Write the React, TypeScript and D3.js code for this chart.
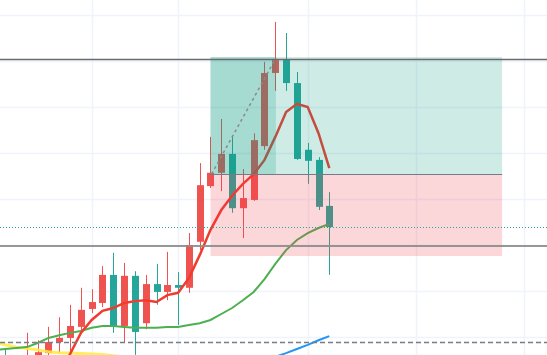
import React from "react";
import * as d3 from "d3";

const W = 547;
const H = 355;

// candle index 0 is a bar off the bottom of the pane
const opens = [24.0, 25.4, 21.7, 22.4, 24.6, 26.5, 28.9, 29.8, 32.2, 36.1, 37.4, 43.5, 32.4, 43.3, 33.0, 41.5, 39.8, 41.3, 40.7, 50.7, 62.8, 65.7, 69.8, 58.0, 59.8, 71.5, 87.4, 90.4, 85.2, 70.7, 68.5, 58.5];
const highs = [25.0, 27.6, 25.4, 30.9, 29.3, 32.2, 34.3, 37.0, 40.7, 40.4, 45.4, 48.3, 46.1, 44.3, 43.5, 45.9, 48.5, 44.1, 52.6, 67.8, 73.5, 77.4, 73.7, 66.5, 74.3, 89.8, 98.5, 96.1, 87.6, 72.2, 69.1, 61.5];
const lows = [21.0, 21.7, 20.4, 21.1, 23.9, 25.4, 26.5, 26.5, 31.1, 35.2, 36.5, 30.9, 28.7, 26.1, 31.7, 37.0, 38.0, 32.6, 39.6, 48.9, 62.4, 61.7, 57.0, 51.5, 59.6, 70.7, 83.5, 83.5, 68.5, 63.3, 57.6, 43.5];
const closes = [22.0, 23.3, 24.1, 25.7, 26.7, 28.9, 29.8, 32.4, 35.9, 37.6, 43.5, 32.2, 43.3, 31.1, 41.5, 39.8, 41.3, 40.7, 50.0, 63.0, 65.7, 69.8, 58.0, 60.2, 72.8, 87.4, 90.2, 85.2, 68.7, 68.3, 58.3, 53.9];

type V = number | null;
const maFast: V[] = [null, null, null, null, null, null, 22.2, 26.3, 30.9, 33.7, 35.7, 36.3, 37.4, 37.8, 38.0, 37.6, 39.1, 39.6, 42.8, 47.8, 53.3, 57.6, 60.7, 63.3, 65.4, 68.5, 73.5, 78.9, 80.7, 80.0, 74.3, 66.7];
const maMid: V[] = [27.2, 27.4, 27.6, 27.8, 28.7, 29.8, 30.4, 30.9, 31.3, 32.0, 32.4, 32.4, 32.2, 32.0, 32.0, 32.0, 32.2, 32.2, 32.6, 33.0, 33.7, 35.0, 36.3, 38.0, 39.8, 42.6, 45.9, 48.9, 51.1, 52.6, 53.7, 54.6];
const maSlow: V[] = [28.9, 28.3, 27.8, 27.5, 27.2, 26.8, 26.6, 26.5, 26.4, 26.3, 26.2, 25.9, 25.7, null, null, null, null, null, null, null, null, null, null, null, null, null, null, null, null, null, null, null];
const maLong: V[] = [null, null, null, null, null, null, null, null, null, null, null, null, null, null, null, null, null, null, null, null, null, null, null, null, null, null, 25.7, 26.5, 27.4, 28.3, 29.3, 30.2];

const priceGrid = [100, 90, 80, 70, 60, 50, 40, 30];
const timeGrid = [9, 17, 29, 39, 49];

const resistance = 90.3;
const support = 49.8;
const lowLevel = 28.9;
const lastClose = closes[closes.length - 1];

// long position tool
const posStart = 20;
const posEnd = 47;
const posFilled = 26.05;
const entry = 65.4;
const target = 90.85;
const stop = 47.6;

export default function App() {
  const x = d3.scaleLinear().domain([0, 51]).range([-5.5, 545.3]);
  const y = d3.scaleLinear().domain([100, 30]).range([15, 337]);

  const line = d3
    .line<V>()
    .defined((d) => d != null)
    .x((_, i) => x(i))
    .y((d) => y(d as number));

  const up = "#ef5350";
  const down = "#26a69a";

  return (
    <svg
      width={W}
      height={H}
      style={{ position: "fixed", left: 0, top: 0, background: "#fff" }}
    >
      <rect width={W} height={H} fill="#ffffff" />
      {/* grid */}
      {priceGrid.map((p) => (
        <line key={"h" + p} x1={0} x2={W} y1={Math.round(y(p)) + 0.5} y2={Math.round(y(p)) + 0.5} stroke="#f0f3fa" strokeWidth={1.5} />
      ))}
      {timeGrid.map((t) => (
        <line key={"v" + t} x1={Math.round(x(t)) + 0.5} x2={Math.round(x(t)) + 0.5} y1={0} y2={H} stroke="#f0f3fa" strokeWidth={1.5} />
      ))}

      {/* candles */}
      {opens.map((o, i) => {
        const c = closes[i];
        const cx = Math.round(x(i));
        const col = c >= o ? up : down;
        const top = y(Math.max(o, c));
        const bot = y(Math.min(o, c));
        return (
          <g key={"c" + i}>
            <line x1={cx + 0.5} x2={cx + 0.5} y1={y(highs[i])} y2={y(lows[i])} stroke={col} strokeWidth={1} />
            <rect x={cx - 3} y={top} width={7} height={Math.max(1, bot - top)} fill={col} />
          </g>
        );
      })}

      {/* moving averages */}
      <path d={line(maSlow) || ""} fill="none" stroke="#ffeb3b" strokeOpacity={0.85} strokeWidth={3} />
      <path d={line(maLong) || ""} fill="none" stroke="#2196f3" strokeWidth={2} />
      <path d={line(maMid) || ""} fill="none" stroke="#4caf50" strokeWidth={2} />
      <path d={line(maFast) || ""} fill="none" stroke="#f23b2f" strokeWidth={2.5} />

      {/* position box */}
      <rect x={x(posStart)} y={y(target)} width={x(posEnd) - x(posStart)} height={y(entry) - y(target)} fill="rgba(8,153,129,0.2)" />
      <rect x={x(posStart)} y={y(target)} width={x(posFilled) - x(posStart)} height={y(entry) - y(target)} fill="rgba(8,153,129,0.2)" />
      <rect x={x(posStart)} y={y(entry)} width={x(posEnd) - x(posStart)} height={y(stop) - y(entry)} fill="rgba(242,54,69,0.2)" />
      <line x1={x(posStart)} x2={x(posEnd)} y1={Math.round(y(entry)) + 0.5} y2={Math.round(y(entry)) + 0.5} stroke="#787b86" strokeWidth={1} />
      <line x1={x(posStart) + 1} x2={x(posFilled)} y1={y(entry)} y2={y(target) + 1} stroke="#8a8a8a" strokeWidth={1.5} strokeDasharray="3,3" />

      {/* horizontal levels */}
      <line x1={0} x2={W} y1={y(resistance)} y2={y(resistance)} stroke="#6a6a6a" strokeWidth={1.5} />
      <line x1={0} x2={W} y1={y(support)} y2={y(support)} stroke="#8c8c8c" strokeWidth={2} strokeOpacity={0.9} />
      <line x1={0} x2={W} y1={Math.round(y(lastClose)) + 0.5} y2={Math.round(y(lastClose)) + 0.5} stroke="#26a69a" strokeWidth={1} strokeDasharray="1,2" />
      <line x1={0} x2={W} y1={Math.round(y(lowLevel)) + 0.5} y2={Math.round(y(lowLevel)) + 0.5} stroke="#787b86" strokeWidth={1.5} strokeDasharray="5,3" />
    </svg>
  );
}
